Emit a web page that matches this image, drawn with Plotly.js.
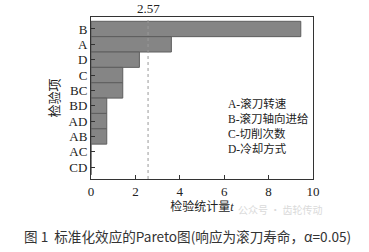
<!DOCTYPE html>
<html><head><meta charset="utf-8">
<script src="https://cdn.plot.ly/plotly-3.0.1.min.js"></script>
<style>html,body{margin:0;padding:0;background:#fff;}#chart{width:369px;height:252px;}</style>
</head><body><div id="chart"></div>
<script>
const terms = ["B","A","D","C","BC","BD","AD","AB","AC","CD"];
const effects = [9.45, 3.62, 2.18, 1.43, 1.43, 0.71, 0.71, 0.71, 0, 0];
const criticalT = 2.57;
const legendLines = ["A-滚刀转速","B-滚刀轴向进给","C-切削次数","D-冷却方式"];
const xTicks = [0,2,4,6,8,10];

const serif = "Liberation Serif, DejaVu Serif, Noto Sans CJK SC, serif";
const trace = {
  type: 'bar', orientation: 'h', x: effects, y: terms,
  marker: {color: '#858585', line: {color: '#5e5e5e', width: 1}},
  hoverinfo: 'skip'
};
const layout = {
  width: 369, height: 252,
  margin: {l: 91, r: 56, t: 17, b: 73},
  paper_bgcolor: '#fff', plot_bgcolor: '#fff',
  showlegend: false, bargap: 0,
  font: {family: serif, size: 12, color: '#222'},
  xaxis: {
    range: [0, 10], tickmode: 'array', tickvals: xTicks, ticks: 'inside', ticklen: 4, tickcolor: '#333',
    showline: true, linecolor: '#333', linewidth: 1, mirror: true, showgrid: false, zeroline: false,
    tickfont: {family: serif, size: 13, color: '#222'},
    title: {text: '检验统计量<i>t</i>', font: {family: serif, size: 12, color: '#222'}, standoff: 4}
  },
  yaxis: {
    type: 'category', categoryorder: 'array', categoryarray: terms, autorange: false, range: [9.77, -0.78],
    tickmode: 'array', tickvals: terms, ticktext: terms,
    ticks: 'inside', ticklen: 4, tickcolor: '#333',
    showline: true, linecolor: '#333', linewidth: 1, mirror: true, showgrid: false, zeroline: false,
    tickfont: {family: serif, size: 13, color: '#222'},
    title: {text: '检验项', font: {family: serif, size: 13, color: '#222'}, standoff: 6}
  },
  shapes: [{type: 'line', xref: 'x', yref: 'paper', x0: criticalT, x1: criticalT, y0: 0, y1: 1,
    line: {color: '#999', width: 1, dash: 'dot'}}],
  annotations: [
    {xref: 'x', yref: 'paper', x: criticalT, y: 1, yanchor: 'bottom', xanchor: 'center', showarrow: false,
     text: criticalT.toFixed(2), font: {family: serif, size: 13, color: '#222'}, yshift: -1},
    {xref: 'paper', yref: 'paper', x: 0.61, y: 0.52, xanchor: 'left', yanchor: 'top', align: 'left', showarrow: false,
     text: legendLines.join('<br>'), font: {family: serif, size: 11.5, color: '#222'}},
    {xref: 'paper', yref: 'paper', x: 0.85, y: -0.13, xanchor: 'center', yanchor: 'top', showarrow: false,
     text: '公众号 · 齿轮传动', font: {family: 'Noto Sans CJK SC, sans-serif', size: 10, color: '#dadada'}},
    {xref: 'paper', yref: 'paper', x: -0.311, y: -0.352, xanchor: 'left', yanchor: 'middle', showarrow: false,
     text: '图 1  标准化效应的Pareto图(响应为滚刀寿命，α=0.05)', font: {family: 'Noto Sans CJK SC, sans-serif', size: 13.6, color: '#333'}}
  ]
};
Plotly.newPlot('chart', [trace], layout, {staticPlot: true, displayModeBar: false});
</script></body></html>
